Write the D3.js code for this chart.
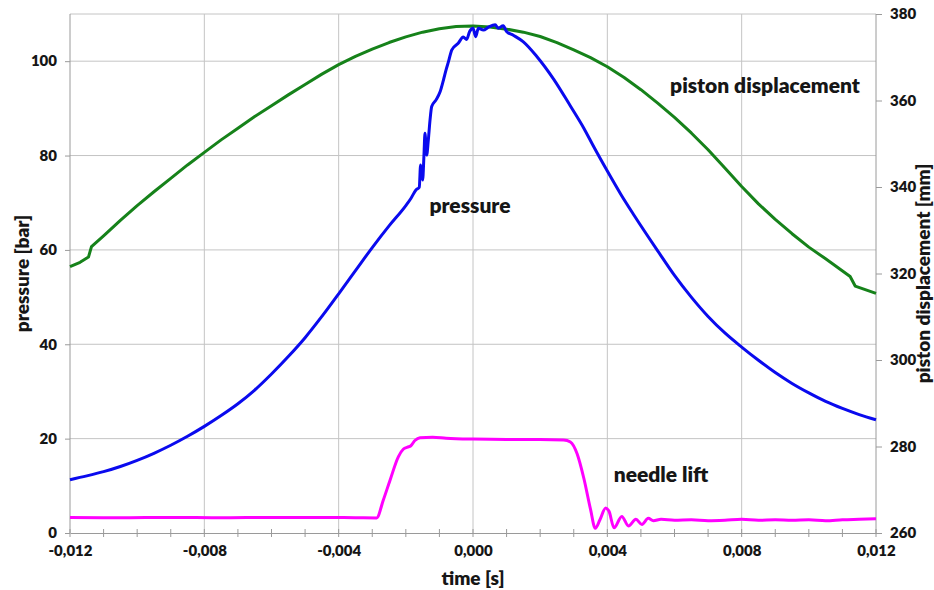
<!DOCTYPE html>
<html>
<head>
<meta charset="utf-8">
<script src="https://cdn.jsdelivr.net/npm/d3@7"></script>
<style>
  html, body { margin: 0; padding: 0; background: #ffffff; }
  svg text { font-family: "Lato", "DejaVu Sans", sans-serif; font-weight: 800; fill: #161616; }
</style>
</head>
<body>
<svg id="chart" width="934" height="590"></svg>
<script>
// Injection cycle: cylinder pressure, needle lift (left axis) and piston displacement (right axis)

const xTicks = [-0.012, -0.008, -0.004, 0.000, 0.004, 0.008, 0.012];
const xMinorStep = 0.001;
const leftTicks = [0, 20, 40, 60, 80, 100];
const rightTicks = [260, 280, 300, 320, 340, 360, 380];

// pressure [bar]
const pressureTime = [
  -0.012, -0.0115, -0.011, -0.0105, -0.010, -0.0095, -0.009, -0.0085, -0.008, -0.0075,
  -0.007, -0.0065, -0.006, -0.0055, -0.005, -0.0045, -0.004, -0.0035, -0.003, -0.0025,
  -0.002, -0.00185, -0.0017, -0.0016, -0.00156, -0.0015, -0.00146, -0.00143, -0.00138, -0.00133,
  -0.00128, -0.00123, -0.0011, -0.00098, -0.00088, -0.0008, -0.00073, -0.00063, -0.00044, -0.00029,
  -0.00019, -0.0001, 0.0, 0.00008, 0.00016, 0.00031, 0.00046, 0.00066, 0.00075, 0.0009,
  0.001, 0.0012, 0.0015, 0.0019, 0.0024, 0.0029, 0.0033, 0.0036, 0.004, 0.0044,
  0.0048, 0.0055, 0.006, 0.0065, 0.007, 0.0075, 0.008, 0.0085, 0.009, 0.0095,
  0.010, 0.0105, 0.011, 0.0115, 0.012
];
const pressureBar = [
  11.3, 12.1, 13.0, 14.1, 15.4, 16.9, 18.6, 20.5, 22.6, 24.9,
  27.4, 30.3, 33.7, 37.4, 41.4, 45.9, 50.7, 55.6, 60.5, 65.1,
  69.4, 70.9, 72.7, 73.3, 78.0, 74.8, 80.1, 84.7, 80.1, 83.3,
  87.5, 90.4, 91.8, 93.5, 96.0, 98.2, 99.9, 102.4, 103.8, 105.1,
  104.6, 106.3, 107.0, 105.2, 107.0, 106.6, 107.2, 107.7, 107.0, 107.5,
  106.3, 105.5, 104.1, 101.0, 96.2, 90.5, 85.8, 81.8, 76.7, 71.8,
  67.3, 59.8, 54.6, 50.0, 45.9, 42.4, 39.4, 36.6, 34.0, 31.7,
  29.7, 27.9, 26.4, 25.1, 24.0
];

// needle lift, plotted against the pressure axis
const needleTime = [
  -0.012, -0.0105, -0.009, -0.0075, -0.006, -0.0045, -0.0035, -0.00287, -0.00267, -0.00247,
  -0.00222, -0.00207, -0.00195, -0.00185, -0.00173, -0.00158, -0.0012, -0.0008, 0.0, 0.001,
  0.002, 0.0027, 0.0029, 0.0031, 0.0033, 0.0035, 0.00364, 0.00378, 0.00395, 0.00405,
  0.0042, 0.00443, 0.00463, 0.00485, 0.00503, 0.00522, 0.00537, 0.0056, 0.006, 0.0065,
  0.007, 0.0075, 0.008, 0.0085, 0.009, 0.0095, 0.010, 0.0105, 0.011, 0.0115,
  0.012
];
const needleLift = [
  3.3, 3.25, 3.3, 3.25, 3.3, 3.3, 3.25, 3.2, 7.0, 11.2,
  16.2, 17.8, 18.2, 18.5, 19.6, 20.2, 20.3, 20.1, 19.9, 19.8,
  19.8, 19.7, 19.3, 16.8, 11.6, 5.0, 1.0, 2.8, 5.3, 4.6,
  1.1, 3.5, 1.5, 2.9, 1.8, 3.1, 2.6, 2.9, 2.7, 2.8,
  2.6, 2.7, 2.9, 2.7, 2.8, 2.7, 2.8, 2.6, 2.8, 2.9,
  3.0
];

// piston displacement [mm]
const pistonTime = [
  -0.012, -0.0117, -0.01145, -0.01136, -0.011, -0.0105, -0.010, -0.0095, -0.009, -0.0085,
  -0.008, -0.0075, -0.007, -0.0065, -0.006, -0.0055, -0.005, -0.0045, -0.004, -0.0035,
  -0.003, -0.0025, -0.002, -0.0015, -0.001, -0.0005, 0.0, 0.0005, 0.001, 0.0015,
  0.002, 0.0025, 0.003, 0.0035, 0.004, 0.0045, 0.005, 0.0055, 0.006, 0.0065,
  0.007, 0.0075, 0.008, 0.0085, 0.009, 0.0095, 0.010, 0.0105, 0.01123, 0.01138,
  0.012
];
const pistonMm = [
  321.6, 322.6, 323.8, 326.2, 328.7, 332.3, 335.7, 338.9, 342.0, 345.1,
  348.0, 350.9, 353.6, 356.3, 358.8, 361.3, 363.7, 366.1, 368.3, 370.2,
  371.9, 373.4, 374.7, 375.8, 376.6, 377.1, 377.2, 377.0, 376.5, 375.8,
  374.8, 373.4, 371.7, 369.9, 367.8, 365.3, 362.5, 359.4, 356.1, 352.5,
  348.6, 344.4, 340.1, 336.1, 332.5, 329.2, 326.1, 323.4, 319.3, 317.1,
  315.4
];

const svg = d3.select("#chart");
const plot = { left: 70, right: 876, top: 14, bottom: 533 };

const x = d3.scaleLinear().domain([-0.012, 0.012]).range([plot.left, plot.right]);
const yL = d3.scaleLinear().domain([0, 110]).range([plot.bottom, plot.top]);
const yR = d3.scaleLinear().domain([260, 380]).range([plot.bottom, plot.top]);

const fmtX = v => d3.format(".3f")(v).replace("−", "-").replace(".", ",");
const gridColor = "#c4c4c4";
const axisColor = "#9a9a9a";

// grid
const grid = svg.append("g");
grid.selectAll("line.h").data(leftTicks.filter(v => v > 0).concat([110])).join("line")
  .attr("x1", plot.left).attr("x2", plot.right)
  .attr("y1", d => yL(d)).attr("y2", d => yL(d))
  .attr("stroke", gridColor).attr("stroke-width", 1);
grid.selectAll("line.v").data(xTicks.slice(1, -1)).join("line")
  .attr("x1", d => x(d)).attr("x2", d => x(d))
  .attr("y1", plot.top).attr("y2", plot.bottom)
  .attr("stroke", gridColor).attr("stroke-width", 1);

// bottom axis
const xAxis = d3.axisBottom(x).tickValues(xTicks).tickFormat(fmtX).tickSize(0).tickPadding(12);
const gx = svg.append("g").attr("transform", `translate(0,${plot.bottom})`).call(xAxis);
gx.select(".domain").attr("stroke", axisColor);
gx.selectAll("text").style("font-size", "15px");
const minorX = d3.range(-12, 13).map(i => i * xMinorStep);
svg.append("g").selectAll("line").data(minorX).join("line")
  .attr("x1", d => x(d)).attr("x2", d => x(d))
  .attr("y1", plot.bottom - 4).attr("y2", plot.bottom + 4)
  .attr("stroke", axisColor).attr("stroke-width", 1);

// left axis
const gl = svg.append("g").attr("transform", `translate(${plot.left},0)`)
  .call(d3.axisLeft(yL).tickValues(leftTicks).tickSize(5).tickPadding(8));
gl.select(".domain").attr("stroke", axisColor).attr("d", `M0,${plot.bottom}V${plot.top}`);
gl.selectAll(".tick line").attr("stroke", axisColor);
gl.selectAll("text").style("font-size", "15px");

// right axis
const gr = svg.append("g").attr("transform", `translate(${plot.right},0)`)
  .call(d3.axisRight(yR).tickValues(rightTicks).tickSize(6).tickPadding(8));
gr.select(".domain").attr("stroke", axisColor).attr("d", `M0,${plot.bottom}V${plot.top}`);
gr.selectAll(".tick line").attr("stroke", axisColor);
gr.selectAll("text").style("font-size", "15px");

// series
const lineL = d3.line().x(d => x(d[0])).y(d => yL(d[1])).curve(d3.curveMonotoneX);
const lineR = d3.line().x(d => x(d[0])).y(d => yR(d[1])).curve(d3.curveLinear);

svg.append("path").datum(d3.zip(pistonTime, pistonMm))
  .attr("d", lineR).attr("fill", "none").attr("stroke", "#16821a").attr("stroke-width", 3)
  .attr("stroke-linejoin", "round");
svg.append("path").datum(d3.zip(needleTime, needleLift))
  .attr("d", lineL).attr("fill", "none").attr("stroke", "#ff00ff").attr("stroke-width", 3)
  .attr("stroke-linejoin", "round");
svg.append("path").datum(d3.zip(pressureTime, pressureBar))
  .attr("d", lineL).attr("fill", "none").attr("stroke", "#0a0aee").attr("stroke-width", 3)
  .attr("stroke-linejoin", "round");

// series labels
svg.append("text").attr("x", 470).attr("y", 213).attr("text-anchor", "middle")
  .style("font-size", "21px").text("pressure");
svg.append("text").attr("x", 765).attr("y", 93).attr("text-anchor", "middle")
  .style("font-size", "21px").text("piston displacement");
svg.append("text").attr("x", 661).attr("y", 482).attr("text-anchor", "middle")
  .style("font-size", "21px").text("needle lift");

// axis titles
svg.append("text").attr("x", x(0)).attr("y", 585).attr("text-anchor", "middle")
  .style("font-size", "19px").text("time [s]");
svg.append("text").attr("transform", `translate(29,${(plot.top + plot.bottom) / 2}) rotate(-90)`)
  .attr("text-anchor", "middle").style("font-size", "19px").text("pressure [bar]");
svg.append("text").attr("transform", `translate(930,${(plot.top + plot.bottom) / 2}) rotate(-90)`)
  .attr("text-anchor", "middle").style("font-size", "19px").text("piston displacement [mm]");
</script>
</body>
</html>
